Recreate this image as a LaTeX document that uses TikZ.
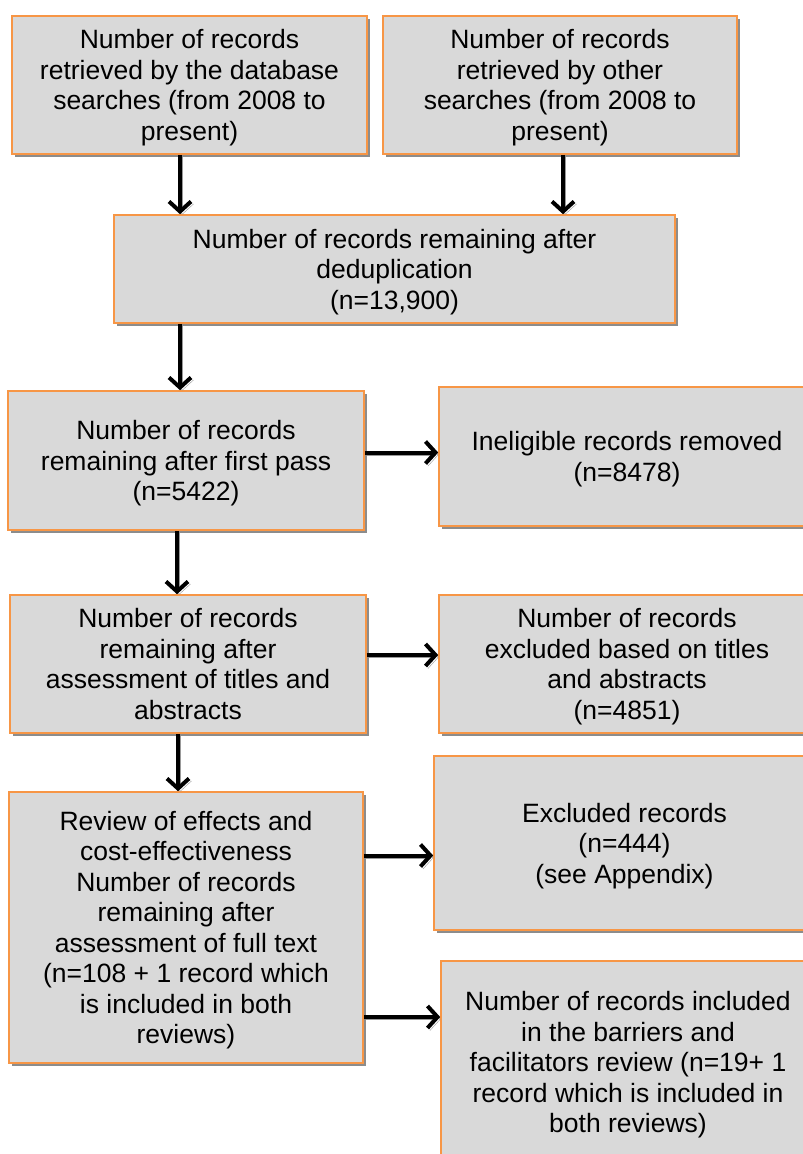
\documentclass[tikz,border=0pt]{standalone}
\usepackage{fontspec}
\setmainfont{Liberation Sans}
\usetikzlibrary{arrows.meta,shadows}
\definecolor{boxfill}{HTML}{D9D9D9}
\definecolor{boxline}{HTML}{F79646}
\tikzset{
  rec/.style={draw=boxline,line width=1.6pt,fill=boxfill,align=center,inner sep=0pt,
    drop shadow={shadow xshift=3pt,shadow yshift=-3pt,fill=black!45,opacity=1},
    font=\fontsize{26.5}{30.5}\selectfont,text depth=-3pt},
  flow/.style={line width=4pt,-{Straight Barb[length=10pt,width=22pt,line width=4pt]},
    general shadow={draw=black!40,shadow xshift=2.5pt,shadow yshift=-2.5pt}}
}

\begin{document}
\begin{tikzpicture}[x=1pt,y=-1pt]
\useasboundingbox (0,0) rectangle (803,1154);
\clip (0,0) rectangle (803,1154);
\foreach \n/\x/\y/\w/\h/\t in {
  db/189.5/85/355/138/{Number of records\\retrieved by the database\\searches (from 2008 to\\present)},
  other/560/85/354/138/{Number of records\\retrieved by other\\searches (from 2008 to\\present)},
  dedup/394.5/269/561/108/{Number of records remaining after\\deduplication\\(n=13,900)},
  pass1/186/460.5/356/139/{Number of records\\remaining after first pass\\(n=5422)},
  inelig/627/456.5/376/139/{Ineligible records removed\\(n=8478)},
  titles/188/664/356/138/{Number of records\\remaining after\\assessment of titles and\\abstracts},
  extitles/627/664/376/138/{Number of records\\excluded based on titles\\and abstracts\\(n=4851)},
  review/186/927.5/354/271/{Review of effects and\\cost-effectiveness\\Number of records\\remaining after\\assessment of full text\\(n=108 + 1 record which\\is included in both\\reviews)},
  excl/624.5/843/381/174/{Excluded records\\(n=444)\\(see Appendix)},
  barriers/628/1062/374/202/{Number of records included\\in the barriers and\\facilitators review (n=19+ 1\\record which is included in\\both reviews)}}
  \node[rec,minimum width=\w pt,minimum height=\h pt] (\n) at (\x,\y) {\t};

\draw[flow] ([xshift=-9.5pt]db.south) -- ([xshift=-9.5pt]db.south |- dedup.north);
\draw[flow] ([xshift=3pt]other.south) -- ([xshift=3pt]other.south |- dedup.north);
\draw[flow] ([xshift=-6pt]pass1.north |- dedup.south) -- ([xshift=-6pt]pass1.north);
\draw[flow] ([xshift=-9pt]pass1.south) -- ([xshift=-9pt]pass1.south |- titles.north);
\draw[flow] ([xshift=-10pt]titles.south) -- ([xshift=-10pt]titles.south |- review.north);
\draw[flow] ([yshift=8pt]pass1.east) -- ([yshift=8pt]pass1.east -| inelig.west);
\draw[flow] ([yshift=9pt]titles.east) -- ([yshift=9pt]titles.east -| extitles.west);
\draw[flow] ([yshift=72pt]review.east) -- ([yshift=72pt]review.east -| excl.west);
\draw[flow] ([yshift=-89.5pt]review.east) -- ([yshift=-89.5pt]review.east -| barriers.west);
\end{tikzpicture}
\end{document}
